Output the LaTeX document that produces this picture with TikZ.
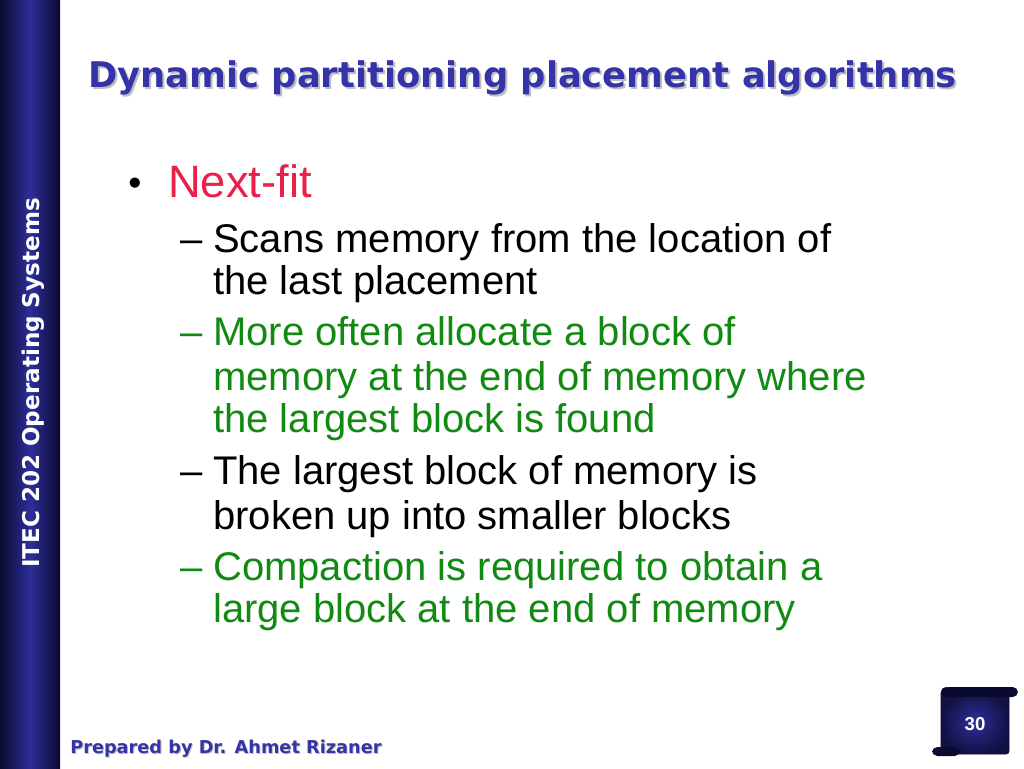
\documentclass[tikz,border=0pt]{standalone}
\usepackage{fontspec}
\setmainfont{Liberation Sans}
\newfontfamily\titlefont{DejaVu Sans}
\definecolor{barnavy}{HTML}{0A0A30}
\definecolor{barblue}{HTML}{2E2E9A}
\definecolor{titleblue}{HTML}{3434A8}
\definecolor{nextred}{HTML}{E8204A}
\definecolor{itemgreen}{HTML}{118A11}
\tikzset{
    line/.style={anchor=base west, inner sep=0pt, font=\fontsize{30}{34}\selectfont},
    plain/.style={line, text=black},
    green/.style={line, text=itemgreen},
    dashmark/.style={anchor=base west, inner sep=0pt, font=\fontsize{30}{34}\selectfont}
}
\begin{document}
\begin{tikzpicture}[x=0.75pt, y=-0.75pt]
    \useasboundingbox (0,0) rectangle (1024,768);
    \fill[white] (0,0) rectangle (1024,768);
    % side bar
    \shade[left color=barnavy, right color=barnavy, middle color=barblue] (0,0) rectangle (60,768);
    \node[rotate=90, text=white, font=\titlefont\bfseries\fontsize{17.3}{19}\selectfont] (sidetext) at (33,383) {ITEC 202 Operating Systems};
    % title
    \node[anchor=base west, inner sep=0pt, text=gray!50, font=\titlefont\bfseries\fontsize{26.5}{30}\selectfont] (titleshadow) at (90,89) {Dynamic partitioning placement algorithms};
    \node[anchor=base west, inner sep=0pt, text=titleblue, font=\titlefont\bfseries\fontsize{26.5}{30}\selectfont] (title) at (88,87) {Dynamic partitioning placement algorithms};
    % bullet
    \node[anchor=base west, inner sep=0pt, font=\fontsize{28}{30}\selectfont] (bullet) at (128,195) {\textbullet};
    \node[anchor=base west, inner sep=0pt, text=nextred, font=\fontsize{34}{38}\selectfont] (nextfit) at (168,197) {Next-fit};
    % sub items
    \node[dashmark] (d1) at (180,252) {–};
    \node[dashmark, text=itemgreen] (d2) at (180,345) {–};
    \node[dashmark] (d3) at (180,484) {–};
    \node[dashmark, text=itemgreen] (d4) at (180,580) {–};
    \node[plain] (l1) at (213,252) {Scans memory from the location of};
    \node[plain] (l2) at (213,294) {the last placement};
    \node[green] (l3) at (213,345) {More often allocate a block of};
    \node[green] (l4) at (213,390) {memory at the end of memory where};
    \node[green] (l5) at (213,432) {the largest block is found};
    \node[plain] (l6) at (213,484) {The largest block of memory is};
    \node[plain] (l7) at (213,529) {broken up into smaller blocks};
    \node[green] (l8) at (213,580) {Compaction is required to obtain a};
    \node[green] (l9) at (213,622) {large block at the end of memory};
    % footer
    \node[anchor=base west, inner sep=0pt, text=gray!50, font=\titlefont\bfseries\fontsize{13.3}{15}\selectfont] (footshadow) at (71,754) {Prepared by Dr. Ahmet Rizaner};
    \node[anchor=base west, inner sep=0pt, text=titleblue, font=\titlefont\bfseries\fontsize{13.3}{15}\selectfont] (footer) at (70,753) {Prepared by Dr. Ahmet Rizaner};
    % page scroll
    \shade[inner color=barblue, outer color=barnavy!80!barblue, draw=barnavy, rounded corners=2pt] (941,690) rectangle (1009,754);
    \fill[barnavy, rounded corners=4pt] (943,687) rectangle (1018,697);
    \fill[barnavy] (946,692) circle (5);
    \fill[barnavy, rounded corners=4pt] (932,747) rectangle (960,756);
    \node[text=white, font=\bfseries\fontsize{14}{16}\selectfont] (pagenum) at (975,724) {30};
\end{tikzpicture}
\end{document}
